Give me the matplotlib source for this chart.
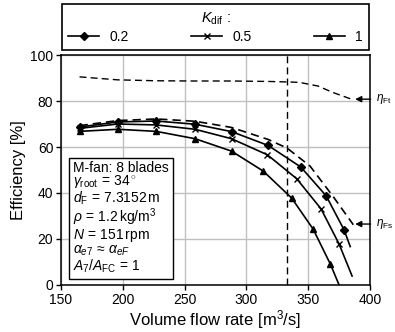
import matplotlib
matplotlib.use("Agg")
import matplotlib.pyplot as plt

plt.rcParams['font.family'] = ['Liberation Sans', 'DejaVu Sans']
plt.rcParams['mathtext.fontset'] = 'custom'
plt.rcParams['mathtext.rm'] = 'Liberation Sans'
plt.rcParams['mathtext.it'] = 'Liberation Sans:italic'
plt.rcParams['mathtext.bf'] = 'Liberation Sans:bold'

# K_dif = 0.2 (diamonds), last point is line end only
q_02 = [165, 196, 227, 258.5, 288, 317.5, 344, 364.5, 379, 384]
eta_02 = [68.7, 70.9, 71.3, 69.9, 66.7, 60.7, 51.3, 38.8, 24.0, 16.7]
# K_dif = 0.5 (x)
q_05 = [165, 196, 227, 258.5, 288, 317, 340.7, 360.4, 375, 385.5]
eta_05 = [68.1, 70.0, 69.6, 67.7, 63.6, 56.6, 46.2, 33.1, 17.8, 3.9]
# K_dif = 1 (triangles)
q_1 = [165, 196, 227, 258.5, 288, 313.7, 336.6, 354, 368, 375]
eta_1 = [66.8, 67.7, 66.8, 63.6, 58.2, 49.5, 37.8, 24.3, 9.0, 0.0]

# eta_Fs (dashed)
q_fs = [165, 196, 227, 258.5, 288, 317.5, 333, 351.5, 370, 386.5]
eta_fs = [69.3, 71.5, 72.2, 71.2, 68.5, 63.3, 59.5, 51.7, 38.6, 26.2]
# eta_Ft (dashed)
q_ft = [165, 196, 227, 258, 288, 318, 333, 343, 358, 370, 385]
eta_ft = [90.5, 89.2, 88.8, 88.7, 88.7, 88.5, 88.3, 88.1, 86.5, 83.7, 80.8]

q_design = 333
labels = ['0.2', '0.5', '1']

fig = plt.figure(figsize=(3.95, 3.32), dpi=100)
ax = fig.add_axes([0.1544, 0.1416, 0.7823, 0.6927])

n_mk = list(range(9))
l1, = ax.plot(q_02, eta_02, 'k-', lw=1.2, marker='D', ms=4.5, markevery=n_mk)
l2, = ax.plot(q_05, eta_05, 'k-', lw=1.2, marker='x', ms=4, mew=1.0, markevery=n_mk)
l3, = ax.plot(q_1, eta_1, 'k-', lw=1.2, marker='^', ms=5, markevery=n_mk)
ax.plot(q_fs, eta_fs, 'k--', lw=1.2, dashes=(5, 3))
ax.plot(q_ft, eta_ft, 'k--', lw=1.0, dashes=(5, 3))
ax.axvline(q_design, color='k', lw=1.0, ls='--', dashes=(5, 3))

ax.set_xlim(150, 400)
ax.set_ylim(0, 100)
ax.set_xticks(range(150, 401, 50))
ax.set_yticks(range(0, 101, 20))
ax.grid(True, color='#c0c0c0', lw=1.0)
ax.set_axisbelow(True)
for s in ax.spines.values():
    s.set_linewidth(1.1)
ax.tick_params(labelsize=10, direction='out', length=3.5, width=1.0, pad=2)
ax.set_xlabel('Volume flow rate [m$^3$/s]', fontsize=12, labelpad=1)
ax.set_ylabel('Efficiency [%]', fontsize=12, labelpad=3)

ax.annotate(r'$\eta_{\rm Ft}$', xy=(388, 80.8), xytext=(405, 80.8),
            fontsize=8.5, va='center', ha='left', annotation_clip=False,
            arrowprops=dict(arrowstyle='-|>', color='k', lw=1.0,
                            shrinkA=2, shrinkB=0, mutation_scale=9))
ax.annotate(r'$\eta_{\rm Fs}$', xy=(388, 26.5), xytext=(405, 26.5),
            fontsize=8.5, va='center', ha='left', annotation_clip=False,
            arrowprops=dict(arrowstyle='-|>', color='k', lw=1.0,
                            shrinkA=2, shrinkB=0, mutation_scale=9))

info = ("M-fan: 8 blades\n"
        r"$\gamma_{\rm root}\,=\,34^\circ$" "\n"
        r"$d_{\rm F}\,=\,7.3152\,$m" "\n"
        r"$\rho\,=\,1.2\,$kg/m$^3$" "\n"
        r"$N\,=\,151\,$rpm" "\n"
        r"$\alpha_{e7}\,\approx\,\alpha_{eF}$" "\n"
        r"$A_7/A_{\rm FC}\,=\,1$")
ax.text(0.038, 0.045, info, transform=ax.transAxes, fontsize=10,
        va='bottom', ha='left', linespacing=0.92,
        bbox=dict(boxstyle='square,pad=0.3', fc='white', ec='k', lw=1.0))

leg = fig.legend([l1, l2, l3], labels, title=r'$K_{\rm dif}$ :',
                 loc='center', bbox_to_anchor=(0.5456, 0.918),
                 ncol=3, fontsize=10, title_fontsize=10.5,
                 handlelength=2.2, handletextpad=0.75, columnspacing=4.5,
                 borderpad=0.45, labelspacing=0.2, fancybox=False,
                 framealpha=1, edgecolor='k')
leg.get_frame().set_linewidth(1.2)

fig.savefig('out.png', dpi=100)
